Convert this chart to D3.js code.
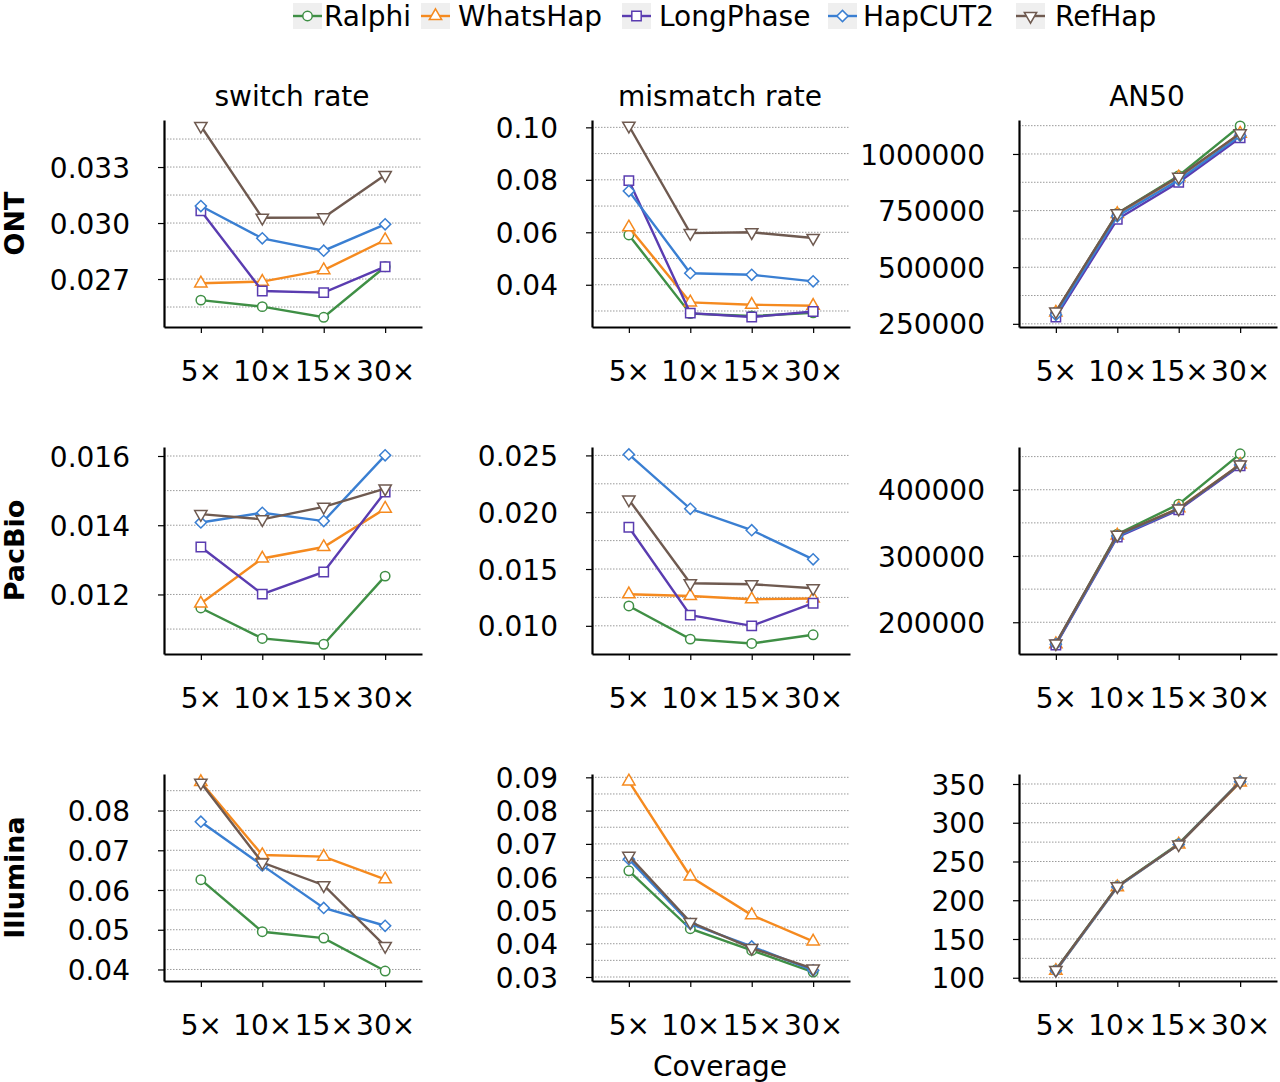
<!DOCTYPE html>
<html>
<head>
<meta charset="utf-8">
<script src="https://cdn.jsdelivr.net/npm/d3@7"></script>
<style>
  body { margin: 0; background: #fff; }
  svg { font-family: "DejaVu Sans", sans-serif; }
</style>
</head>
<body>
<svg id="chart" width="1280" height="1082"></svg>
<script>
// ---- data ----
const coverage = ["5×", "10×", "15×", "30×"];
const methods = ["Ralphi", "WhatsHap", "LongPhase", "HapCUT2", "RefHap"];
const colors = ["#3f8f45", "#f58a1f", "#5a3cb0", "#3a7fd2", "#6f5a50"];
const platforms = ["ONT", "PacBio", "Illumina"];
const metrics = ["switch rate", "mismatch rate", "AN50"];

// each array: one row per method (same order as methods), null = not run
const ontSwitch = [
  [0.02587, 0.02552, 0.02495, 0.02766],
  [0.02677, 0.02686, 0.02748, 0.02909],
  [0.03066, 0.02636, 0.02627, 0.02766],
  [0.03091, 0.02918, 0.02852, 0.02993],
  [0.03520, 0.03028, 0.03030, 0.03257]
];
const ontMismatch = [
  [0.0590, 0.0290, 0.0281, 0.0293],
  [0.0619, 0.0333, 0.0324, 0.0320],
  [0.0797, 0.0292, 0.0277, 0.0298],
  [0.0757, 0.0444, 0.0438, 0.0413],
  [0.1006, 0.0597, 0.0600, 0.0578]
];
const ontAN50 = [
  [301000, 738000, 904000, 1124000],
  [300000, 735000, 897000, 1090000],
  [279500, 711600, 874800, 1071000],
  [290000, 725000, 885000, 1080000],
  [304000, 738000, 899000, 1091000]
];
const pacbioSwitch = [
  [0.01161, 0.01073, 0.01056, 0.01253],
  [0.01174, 0.01304, 0.01337, 0.01448],
  [0.01337, 0.01201, 0.01265, 0.01496],
  [0.01408, 0.01436, 0.01412, 0.01602],
  [0.01432, 0.01417, 0.01453, 0.01506]
];
const pacbioMismatch = [
  [0.01175, 0.00883, 0.00845, 0.00921],
  [0.01278, 0.01263, 0.01234, 0.01240],
  [0.01868, 0.01094, 0.01000, 0.01199],
  [0.02509, 0.02030, 0.01842, 0.01585],
  [0.02111, 0.01375, 0.01366, 0.01331]
];
const pacbioAN50 = [
  [167200, 332900, 378200, 454200],
  [167000, 331000, 372000, 438000],
  [165700, 328400, 369600, 436100],
  [167000, 330000, 371000, 437500],
  [168000, 332000, 371500, 438000]
];
const illuminaSwitch = [
  [0.0626, 0.0495, 0.0479, 0.0396],
  [0.0872, 0.0688, 0.0684, 0.0627],
  null,
  [0.0772, 0.0662, 0.0555, 0.0510],
  [0.0870, 0.0669, 0.0612, 0.0459]
];
const illuminaMismatch = [
  [0.0619, 0.0445, 0.0380, 0.0315],
  [0.0888, 0.0602, 0.0486, 0.0407],
  null,
  [0.0654, 0.0460, 0.0392, 0.0320],
  [0.0664, 0.0465, 0.0387, 0.0325]
];
const illuminaAN50 = [
  [110, 218, 273, 353],
  [109, 217, 272, 352],
  null,
  [109, 217, 272, 353],
  [110, 218, 272, 353]
];

// y domains, major ticks, minor step, tick format per panel
const panels = [
  [ontSwitch, [0.02443, 0.03552], [0.027, 0.030, 0.033], 0.0015, ".3f"],
  [ontMismatch, [0.0239, 0.1028], [0.04, 0.06, 0.08, 0.10], 0.01, ".2f"],
  [ontAN50, [236000, 1150000], [250000, 500000, 750000, 1000000], 125000, "d"],
  [pacbioSwitch, [0.01028, 0.01626], [0.012, 0.014, 0.016], 0.001, ".3f"],
  [pacbioMismatch, [0.00752, 0.02574], [0.010, 0.015, 0.020, 0.025], 0.0025, ".3f"],
  [pacbioAN50, [152100, 464500], [200000, 300000, 400000], 50000, "d"],
  [illuminaSwitch, [0.0371, 0.0892], [0.04, 0.05, 0.06, 0.07, 0.08], 0.005, ".2f"],
  [illuminaMismatch, [0.0288, 0.0910], [0.03, 0.04, 0.05, 0.06, 0.07, 0.08, 0.09], 0.005, ".2f"],
  [illuminaAN50, [95.8, 362.9], [100, 150, 200, 250, 300, 350], 25, "d"]
];

// ---- layout ----
const colX = [164, 592, 1019];
const rowY = [120, 447, 774];
const pw = 258, ph = 207;
const fontSize = 28;

const svg = d3.select("#chart");

const symbols = [
  d3.symbol().type(d3.symbolCircle).size(70),
  d3.symbol().type(d3.symbolTriangle).size(66),
  d3.symbol().type(d3.symbolSquare).size(88),
  d3.symbol().type(d3.symbolSquare).size(62),
  d3.symbol().type(d3.symbolTriangle).size(66)
];
const rotations = [0, 0, 0, 45, 180];

function marker(sel, i) {
  sel.attr("d", symbols[i]())
    .attr("fill", "white")
    .attr("stroke", colors[i])
    .attr("stroke-width", 1.5);
}

panels.forEach((p, k) => {
  const [data, domain, major, minorStep, fmt] = p;
  const r = Math.floor(k / 3), c = k % 3;
  const g = svg.append("g").attr("transform", `translate(${colX[c]},${rowY[r]})`);

  const x = d3.scalePoint().domain(coverage).range([0, pw]).padding(0.6);
  const y = d3.scaleLinear().domain(domain).range([ph, 0]);

  // grid lines at major + minor positions
  const gridVals = d3.range(Math.ceil(domain[0] / minorStep - 1e-6), Math.floor(domain[1] / minorStep + 1e-6) + 1)
    .map(v => v * minorStep);
  g.append("g").selectAll("line").data(gridVals).join("line")
    .attr("x1", 0).attr("x2", pw)
    .attr("y1", d => y(d)).attr("y2", d => y(d))
    .attr("stroke", "#9a9a9a").attr("stroke-width", 1)
    .attr("stroke-dasharray", "1.5,1.5");

  const yAxis = d3.axisLeft(y).tickValues(major).tickFormat(d3.format(fmt))
    .tickSize(6).tickPadding(28).tickSizeOuter(0);
  const xAxis = d3.axisBottom(x).tickSize(6).tickPadding(28).tickSizeOuter(0);

  const ya = g.append("g").call(yAxis);
  const xa = g.append("g").attr("transform", `translate(0,${ph})`).call(xAxis);
  [ya, xa].forEach(a => {
    a.select(".domain").attr("stroke", "black").attr("stroke-width", 2.2);
    a.selectAll(".tick line").attr("stroke", "black").attr("stroke-width", 1.2);
    a.selectAll("text").attr("font-size", fontSize).attr("fill", "black")
      .attr("font-family", "DejaVu Sans");
  });
  ya.selectAll("text").attr("dy", "0.36em");

  const line = d3.line().x((d, i) => x(coverage[i])).y(d => y(d));
  data.forEach((vals, i) => {
    if (!vals) return;
    g.append("path").attr("d", line(vals))
      .attr("fill", "none").attr("stroke", colors[i]).attr("stroke-width", 2.4);
    g.append("g").selectAll("path").data(vals).join("path")
      .attr("transform", (d, j) => `translate(${x(coverage[j])},${y(d)}) rotate(${rotations[i]})`)
      .call(marker, i);
  });

  if (r === 0) {
    svg.append("text").attr("x", colX[c] + pw / 2 - 1).attr("y", 106)
      .attr("text-anchor", "middle").attr("font-size", fontSize).text(metrics[c]);
  }
  if (c === 0) {
    svg.append("text")
      .attr("transform", `translate(${24},${rowY[r] + ph / 2}) rotate(-90)`)
      .attr("text-anchor", "middle").attr("font-size", 27).attr("font-weight", "bold")
      .text(platforms[r]);
  }
});

svg.append("text").attr("x", 720).attr("y", 1076).attr("text-anchor", "middle")
  .attr("font-size", fontSize).text("Coverage");

// ---- legend ----
const legendX = [293, 421, 622, 828, 1016];
const legendTextX = [324, 458, 659, 863, 1055];
const legend = svg.append("g");
methods.forEach((m, i) => {
  const lg = legend.append("g").attr("transform", `translate(${legendX[i]},16)`);
  lg.append("rect").attr("x", 0).attr("y", -13).attr("width", 29).attr("height", 26).attr("fill", "#efefef");
  lg.append("line").attr("x1", 0).attr("x2", 29).attr("stroke", colors[i]).attr("stroke-width", 2.4);
  lg.append("path").attr("transform", `translate(14.5,0) rotate(${rotations[i]})`).call(marker, i);
  legend.append("text").attr("x", legendTextX[i]).attr("y", 16).attr("dy", "0.36em")
    .attr("font-size", fontSize).text(m);
});
</script>
</body>
</html>
